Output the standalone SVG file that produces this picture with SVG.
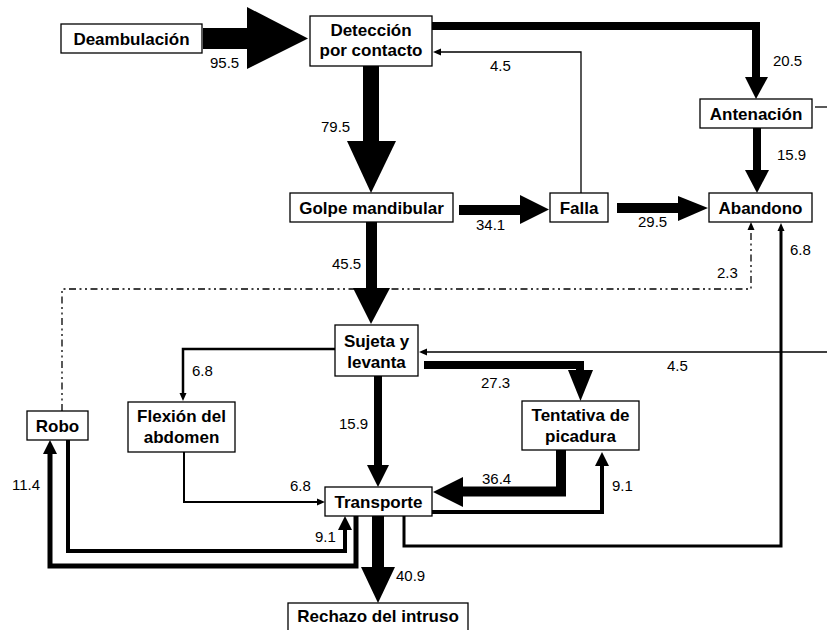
<svg xmlns="http://www.w3.org/2000/svg" width="827" height="630" viewBox="0 0 827 630">
<style>
.box{fill:#fff;stroke:#000;stroke-width:1.3}
.nt{font-family:"Liberation Sans",Arial,sans-serif;font-weight:bold;font-size:17px;text-anchor:middle;fill:#000}
.lb{font-family:"Liberation Sans",Arial,sans-serif;font-size:15px;fill:#000}
.head{fill:#000;stroke:none}
.bar{fill:#000;stroke:none}
.ln{fill:none;stroke:#000;stroke-linejoin:miter}
</style>
<defs>
<marker id="sm" markerUnits="userSpaceOnUse" markerWidth="9" markerHeight="8" refX="0" refY="3.5" orient="auto" overflow="visible"><path d="M0,0 L8,3.5 L0,7 z" fill="#000"/></marker>
<marker id="md" markerUnits="userSpaceOnUse" markerWidth="15" markerHeight="15" refX="0" refY="7" orient="auto" overflow="visible"><path d="M0,0 L14,7 L0,14 z" fill="#000"/></marker>
</defs>
<rect width="827" height="630" fill="#fff"/>
<g id="connectors">
<!-- Deambulacion -> Deteccion 95.5 -->
<rect class="bar" x="203" y="28" width="45" height="21"/>
<polygon class="head" points="247,7 308,38.5 247,69"/>
<!-- Deteccion -> Golpe 79.5 -->
<rect class="bar" x="363" y="66" width="16" height="76"/>
<polygon class="head" points="347,141 396,141 371,193"/>
<!-- Deteccion -> Antenacion 20.5 -->
<path class="ln" d="M432,26 H756 V78" stroke-width="8"/>
<polygon class="head" points="745,77 768,77 756,99"/>
<!-- Antenacion -> Abandono 15.9 -->
<path class="ln" d="M757,128 V171" stroke-width="8"/>
<polygon class="head" points="745,170 769,170 757,193"/>
<!-- Falla -> Deteccion 4.5 -->
<path class="ln" d="M581,193 V52 H441" stroke-width="1.3" marker-end="url(#sm)"/>
<!-- Antenacion right stub -->
<path class="ln" d="M815,107 H827" stroke-width="1.3"/>
<!-- Golpe -> Falla 34.1 -->
<rect class="bar" x="459" y="205" width="62" height="10"/>
<polygon class="head" points="520,195 549,209.5 520,224"/>
<!-- Falla -> Abandono 29.5 -->
<rect class="bar" x="617" y="203" width="62" height="10"/>
<polygon class="head" points="678,196 708,208 678,221"/>
<!-- Golpe -> Sujeta 45.5 -->
<rect class="bar" x="366" y="222" width="11" height="67"/>
<polygon class="head" points="353,288 390,288 371,324"/>
<!-- Robo -> Abandono 2.3 (dash-dot) -->
<path class="ln" d="M62,411 V289 H751 V230" stroke-width="1.3" stroke-dasharray="7,3.5,2,3.5,2,3.5" marker-end="url(#sm)"/>
<!-- Transporte -> Abandono 6.8 -->
<path class="ln" d="M404,516 V546 H781 V231" stroke-width="3" marker-end="url(#sm)"/>
<!-- right -> Sujeta 4.5 -->
<path class="ln" d="M827,352 H427" stroke-width="1.3" marker-end="url(#sm)"/>
<!-- Sujeta -> Flexion 6.8 -->
<path class="ln" d="M335,349 H183 V393" stroke-width="2.5" marker-end="url(#sm)"/>
<!-- Sujeta -> Tentativa 27.3 -->
<path class="ln" d="M424,365 H580 V371" stroke-width="8"/>
<polygon class="head" points="568,370 593,370 580.5,401"/>
<!-- Sujeta -> Transporte 15.9 -->
<rect class="bar" x="374" y="376" width="8" height="90"/>
<polygon class="head" points="367,465 389,465 378,487"/>
<!-- Tentativa -> Transporte 36.4 -->
<path class="ln" d="M561,450 V491.5 H462" stroke-width="10"/>
<polygon class="head" points="463,477 433,492 463,507"/>
<!-- Transporte -> Tentativa 9.1 -->
<path class="ln" d="M432,512 H602 V466" stroke-width="4" marker-end="url(#md)"/>
<!-- Flexion -> Transporte 6.8 -->
<path class="ln" d="M184,452 V502 H317" stroke-width="2" marker-end="url(#sm)"/>
<!-- Robo -> Transporte 9.1 -->
<path class="ln" d="M68,440 V551 H345 V530" stroke-width="4" marker-end="url(#md)"/>
<!-- Transporte -> Robo 11.4 -->
<path class="ln" d="M356,516 V566 H50 V454" stroke-width="5" marker-end="url(#md)"/>
<!-- Transporte -> Rechazo 40.9 -->
<rect class="bar" x="372" y="516" width="12" height="52"/>
<polygon class="head" points="361,567 395,567 378,603"/>
</g>
<g id="labels">
<text class="lb" x="210" y="68">95.5</text>
<text class="lb" x="321" y="132">79.5</text>
<text class="lb" x="773" y="66">20.5</text>
<text class="lb" x="490" y="71">4.5</text>
<text class="lb" x="777" y="160">15.9</text>
<text class="lb" x="476" y="230">34.1</text>
<text class="lb" x="638" y="227">29.5</text>
<text class="lb" x="332" y="269">45.5</text>
<text class="lb" x="717" y="278">2.3</text>
<text class="lb" x="790" y="255">6.8</text>
<text class="lb" x="192" y="376">6.8</text>
<text class="lb" x="667" y="371">4.5</text>
<text class="lb" x="481" y="388">27.3</text>
<text class="lb" x="339" y="429">15.9</text>
<text class="lb" x="482" y="484">36.4</text>
<text class="lb" x="612" y="491">9.1</text>
<text class="lb" x="12" y="490">11.4</text>
<text class="lb" x="290" y="491">6.8</text>
<text class="lb" x="315" y="542">9.1</text>
<text class="lb" x="396" y="581">40.9</text>
</g>
<g id="deambulacion"><rect class="box" x="61" y="24" width="141" height="29"/><text class="nt" x="131.5" y="44.5">Deambulación</text></g>
<g id="deteccion"><rect class="box" x="310" y="16" width="122" height="50"/><text class="nt" x="371" y="36">Detección</text><text class="nt" x="371" y="56">por contacto</text></g>
<g id="antenacion"><rect class="box" x="700" y="99" width="112" height="29"/><text class="nt" x="756" y="119.5">Antenación</text></g>
<g id="golpe"><rect class="box" x="290" y="193" width="163" height="29"/><text class="nt" x="371.5" y="213.5">Golpe mandibular</text></g>
<g id="falla"><rect class="box" x="550" y="193" width="58" height="29"/><text class="nt" x="579" y="213.5">Falla</text></g>
<g id="abandono"><rect class="box" x="709" y="193" width="103" height="29"/><text class="nt" x="760.5" y="213.5">Abandono</text></g>
<g id="sujeta"><rect class="box" x="335" y="325" width="83" height="51"/><text class="nt" x="376.5" y="347">Sujeta y</text><text class="nt" x="376.5" y="368">levanta</text></g>
<g id="flexion"><rect class="box" x="128" y="402" width="107" height="50"/><text class="nt" x="181.5" y="422">Flexión del</text><text class="nt" x="181.5" y="443">abdomen</text></g>
<g id="robo"><rect class="box" x="27" y="411" width="61" height="29"/><text class="nt" x="57.5" y="431.5">Robo</text></g>
<g id="tentativa"><rect class="box" x="522" y="401" width="117" height="49"/><text class="nt" x="580.5" y="421">Tentativa de</text><text class="nt" x="580.5" y="442">picadura</text></g>
<g id="transporte"><rect class="box" x="325" y="487" width="107" height="29"/><text class="nt" x="378.5" y="507.5">Transporte</text></g>
<g id="rechazo"><rect class="box" x="288" y="603" width="180" height="40"/><text class="nt" x="378" y="622">Rechazo del intruso</text></g>
</svg>
